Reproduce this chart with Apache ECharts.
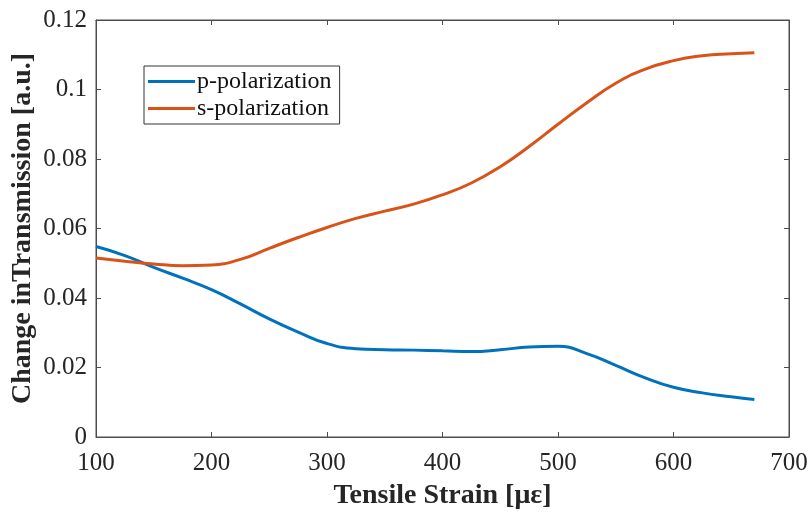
<!DOCTYPE html>
<html>
<head>
<meta charset="utf-8">
<script src="https://cdn.jsdelivr.net/npm/echarts@6/dist/echarts.min.js"></script>
<style>
  html, body { margin: 0; padding: 0; background: #fff; }
  #main { width: 811px; height: 513px; }
</style>
</head>
<body>
<div id="main"></div>
<script>
// strain values (με)
var strain = [100, 125, 150, 175, 200, 225, 250, 275, 300, 325, 350, 375, 400, 425, 450, 475, 500, 525, 550, 575, 600, 625, 650, 670];
// p-polarization
var pPol = [0.0548, 0.0522, 0.0488, 0.0457, 0.0424, 0.0383, 0.0340, 0.0302, 0.0269, 0.0254, 0.0251, 0.0250, 0.0248, 0.0246, 0.0251, 0.0259, 0.0261, 0.0240, 0.0206, 0.0171, 0.0143, 0.0127, 0.0116, 0.0108];
// s-polarization
var sPol = [0.0515, 0.0506, 0.0498, 0.0493, 0.0495, 0.0511, 0.0543, 0.0574, 0.0603, 0.0629, 0.0650, 0.0670, 0.0697, 0.0731, 0.0778, 0.0836, 0.0900, 0.0962, 0.1018, 0.1058, 0.1083, 0.1097, 0.1103, 0.1106];

var xTicks = [100, 200, 300, 400, 500, 600, 700];
var yTicks = [0, 0.02, 0.04, 0.06, 0.08, 0.1, 0.12];

function pairs(xs, ys) {
  return xs.map(function (x, i) { return [x, ys[i]]; });
}

var axisGray = "#4d4d4d";
var textCol = "#262626";
var font = "Liberation Serif";

// top/right axes only carry inside ticks (box look)
function boxX(pos, showLabel) {
  return {
    type: "value",
    position: pos,
    min: xTicks[0],
    max: xTicks[xTicks.length - 1],
    interval: xTicks[1] - xTicks[0],
    axisLine: { show: true, onZero: false, lineStyle: { color: axisGray, width: 1 } },
    axisTick: { show: true, inside: true, length: 5, lineStyle: { color: axisGray } },
    axisLabel: { show: showLabel, fontFamily: font, fontSize: 25, color: textCol, margin: 14 },
    splitLine: { show: false }
  };
}
function boxY(pos, showLabel) {
  return {
    type: "value",
    position: pos,
    min: yTicks[0],
    max: yTicks[yTicks.length - 1],
    interval: yTicks[1] - yTicks[0],
    axisLine: { show: true, onZero: false, lineStyle: { color: axisGray, width: 1 } },
    axisTick: { show: true, inside: true, length: 5, lineStyle: { color: axisGray } },
    axisLabel: {
      show: showLabel, fontFamily: font, fontSize: 25, color: textCol, margin: 9,
      formatter: function (v) { return v === 0 ? "0" : String(+v.toFixed(2)); }
    },
    splitLine: { show: false }
  };
}

var xBottom = boxX("bottom", true);
xBottom.name = "Tensile Strain [με]";
xBottom.nameLocation = "middle";
xBottom.nameGap = 45;
xBottom.nameMoveOverlap = false;
xBottom.nameTextStyle = { fontFamily: font, fontSize: 28, fontWeight: "bold", color: textCol };

var yLeft = boxY("left", true);
yLeft.name = "Change inTransmission [a.u.]";
yLeft.nameLocation = "middle";
yLeft.nameGap = 59;
yLeft.nameMoveOverlap = false;
yLeft.nameTextStyle = { fontFamily: font, fontSize: 28, fontWeight: "bold", color: textCol };

var chart = echarts.init(document.getElementById("main"));
chart.setOption({
  animation: false,
  grid: {
    left: 96, right: 22, top: 20, bottom: 76,
    outerBoundsMode: "none",
    show: true, borderColor: axisGray, borderWidth: 1
  },
  legend: {
    left: 144,
    top: 66,
    orient: "vertical",
    data: ["p-polarization", "s-polarization"],
    icon: "rect",
    itemWidth: 47,
    itemHeight: 3,
    itemGap: 0,
    padding: [2, 8, 2, 4],
    borderColor: "#333",
    borderWidth: 1,
    backgroundColor: "#fff",
    textStyle: { fontFamily: font, fontSize: 24, color: "#111", padding: [0, 0, 0, -3], lineHeight: 27 }
  },
  xAxis: [xBottom, boxX("top", false)],
  yAxis: [yLeft, boxY("right", false)],
  series: [
    {
      name: "p-polarization",
      type: "line",
      xAxisIndex: 0,
      yAxisIndex: 0,
      smooth: 0.5,
      showSymbol: false,
      color: "#0072BD",
      lineStyle: { width: 3, color: "#0072BD" },
      data: pairs(strain, pPol)
    },
    {
      name: "s-polarization",
      type: "line",
      xAxisIndex: 1,
      yAxisIndex: 1,
      smooth: 0.5,
      showSymbol: false,
      color: "#D95319",
      lineStyle: { width: 3, color: "#D95319" },
      data: pairs(strain, sPol)
    }
  ]
});
</script>
</body>
</html>
